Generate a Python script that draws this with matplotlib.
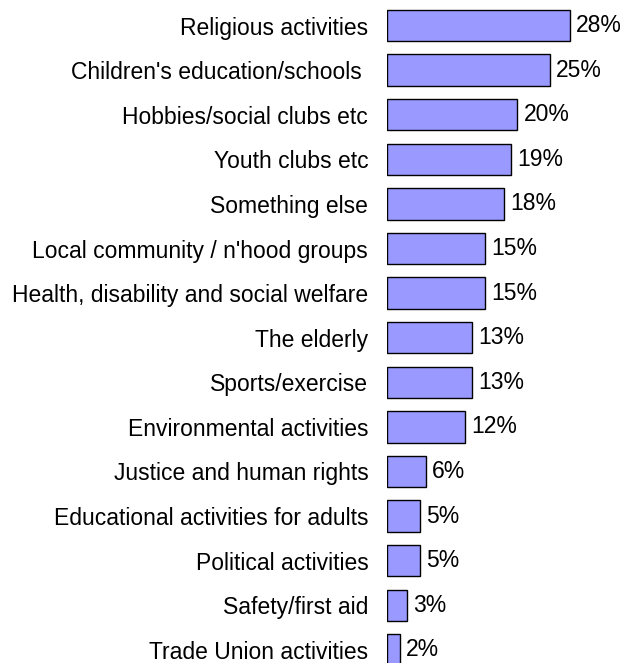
import numpy as np
import matplotlib.pyplot as plt

plt.rcParams['font.family'] = ['Liberation Sans', 'DejaVu Sans']

## Data ##
categories = ["Religious activities", "Children's education/schools ",
              "Hobbies/social clubs etc", "Youth clubs etc", "Something else",
              "Local community / n'hood groups",
              "Health, disability and social welfare", "The elderly",
              "Sports/exercise", "Environmental activities",
              "Justice and human rights", "Educational activities for adults",
              "Political activities", "Safety/first aid",
              "Trade Union activities"]
values = [28, 25, 20, 19, 18, 15, 15, 13, 13, 12, 6, 5, 5, 3, 2]

fig = plt.figure(figsize=(6.22, 6.63), dpi=100)
ax = fig.add_axes([387 / 622, 0, (610 - 387) / 622, 1])

pos = np.arange(len(categories))
ax.barh(pos, values, height=0.70, color='#9999FF', edgecolor='black', linewidth=1.0)

for p, v in zip(pos, values):
    ax.annotate(f"{v}%", (v, p), xytext=(4.5, 0), textcoords='offset points',
                va='center', ha='left', fontsize=16.5)

ax.set_xlim(0, 34.2)
ax.set_ylim(14.294, -0.572)
ax.set_yticks(pos)
ax.set_yticklabels(categories, fontsize=16.5)
ax.tick_params(axis='y', length=0, pad=13.5)
ax.set_xticks([])
for s in ax.spines.values():
    s.set_visible(False)

fig.savefig('out.png', dpi=100)
